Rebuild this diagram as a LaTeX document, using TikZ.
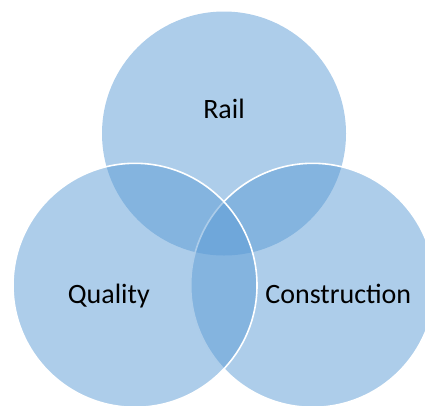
\documentclass[tikz,border=0pt]{standalone}
\usepackage{fontspec}
\setmainfont{Carlito}
\definecolor{venn}{RGB}{91,155,213}
\begin{document}
\begin{tikzpicture}[x=1pt,y=-1pt,
  vcirc/.style={circle,minimum size=244pt,inner sep=0pt,fill=venn,fill opacity=0.5},
  vline/.style={draw=white,line width=1.6pt},
  lbl/.style={font=\fontsize{28}{34}\selectfont,text=black,anchor=base,inner sep=0pt}]
\useasboundingbox (0,0) rectangle (425,405);
\node[vcirc] (rail) at (224,133.5) {};
\node[vcirc,vline] (constr) at (312.7,285.3) {};
\node[vcirc,vline] (qual) at (135,285.3) {};
\node[lbl] (trail) at (224,118.3) {Rail};
\node[lbl] (tqual) at (108.8,303) {Quality};
\node[lbl] (tconstr) at (338.3,303) {Construction};
\end{tikzpicture}
\end{document}
